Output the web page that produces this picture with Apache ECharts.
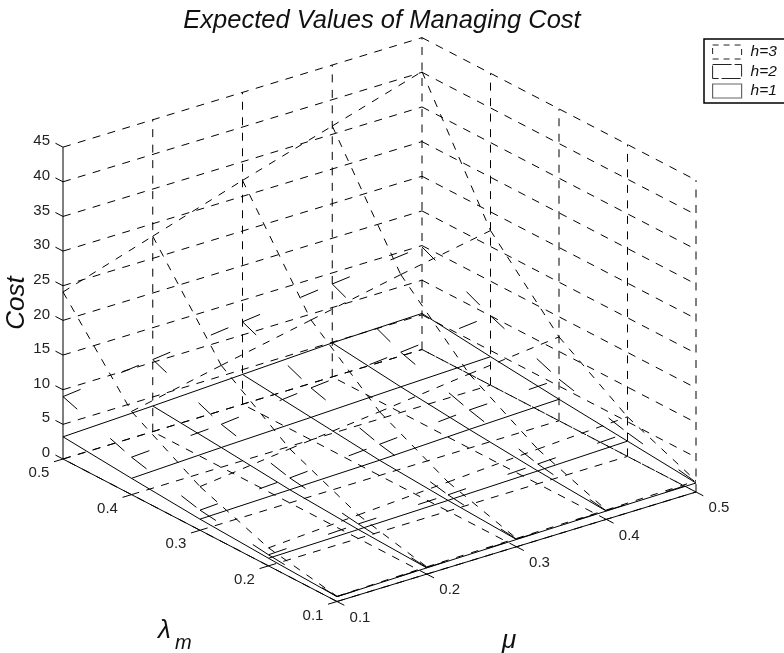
<!DOCTYPE html>
<html>
<head>
<meta charset="utf-8">
<script src="https://cdn.jsdelivr.net/npm/echarts@6/dist/echarts.min.js"></script>
<style>
  html, body { margin: 0; padding: 0; background: #fff; }
  #chart { width: 784px; height: 653px; }
</style>
</head>
<body>
<div id="chart"></div>
<script>
const lambdaValues = [0.5, 0.4, 0.3, 0.2, 0.1];
const muValues = [0.1, 0.2, 0.3, 0.4, 0.5];
const costTicks = [0, 5, 10, 15, 20, 25, 30, 35, 40, 45];

// one row per lambda (0.5 first), one column per mu
const costH3 = [
  [24.1, 28.2, 32.3, 36.2, 40.1],
  [12.0, 14.7, 17.3, 19.9, 22.3],
  [6.3, 7.8, 9.2, 10.7, 12.1],
  [2.6, 3.4, 4.2, 5.0, 5.7],
  [0.75, 1.05, 1.2, 1.35, 1.6],
];
const costH2 = [
  [9.0, 10.4, 11.9, 13.4, 14.8],
  [5.4, 6.2, 7.5, 8.7, 10.0],
  [2.9, 3.6, 4.5, 5.5, 6.0],
  [1.6, 2.1, 2.35, 2.85, 3.4],
  [0.7, 0.95, 1.1, 1.25, 1.4],
];
const costH1 = [
  [3.2, 3.7, 4.3, 4.9, 5.2],
  [2.35, 2.85, 3.25, 3.7, 4.1],
  [1.6, 1.9, 2.2, 2.7, 3.1],
  [1.1, 1.3, 1.55, 1.85, 2.2],
  [0.7, 0.9, 1.05, 1.2, 1.3],
];

const FONT = '"Liberation Sans", Arial, sans-serif';
const LAMBDA_MIN = 0.1, LAMBDA_MAX = 0.5, MU_MIN = 0.1, MU_MAX = 0.5, COST_MAX = 45;

// fixed orthographic view of the box, result is in the hidden cartesian's units
function project(lambda, mu, cost) {
  const a = (lambda - 0.1) / 0.4;
  const b = (mu - 0.1) / 0.4;
  return [337 - 274 * a + 359 * b, 601.5 - 142.5 * a - 109.5 * b - 6.93 * cost];
}

function meshSegments(rows) {
  const segs = [];
  rows.forEach((row, i) => row.forEach((cost, j) => {
    const l = lambdaValues[i], m = muValues[j];
    if (j < row.length - 1) segs.push([l, m, cost, l, muValues[j + 1], row[j + 1]]);
    if (i < rows.length - 1) segs.push([l, m, cost, lambdaValues[i + 1], m, rows[i + 1][j]]);
  }));
  return segs;
}

const gridSegments = [];
costTicks.forEach(c => {
  gridSegments.push([LAMBDA_MAX, MU_MIN, c, LAMBDA_MAX, MU_MAX, c]);
  gridSegments.push([LAMBDA_MAX, MU_MAX, c, LAMBDA_MIN, MU_MAX, c]);
});
muValues.forEach(m => {
  if (m > MU_MIN) gridSegments.push([LAMBDA_MAX, m, 0, LAMBDA_MAX, m, COST_MAX]);
  gridSegments.push([LAMBDA_MIN, m, 0, LAMBDA_MAX, m, 0]);
});
lambdaValues.forEach(l => {
  if (l < LAMBDA_MAX) gridSegments.push([l, MU_MAX, 0, l, MU_MAX, COST_MAX]);
  gridSegments.push([l, MU_MIN, 0, l, MU_MAX, 0]);
});

const axisSegments = [
  [LAMBDA_MAX, MU_MIN, 0, LAMBDA_MAX, MU_MIN, COST_MAX],
  [LAMBDA_MAX, MU_MIN, 0, LAMBDA_MIN, MU_MIN, 0],
  [LAMBDA_MIN, MU_MIN, 0, LAMBDA_MIN, MU_MAX, 0],
];
costTicks.forEach(c => axisSegments.push([LAMBDA_MAX, MU_MIN, c, LAMBDA_MAX + 0.011, MU_MIN, c]));
lambdaValues.forEach(l => axisSegments.push([l, MU_MIN, 0, l, MU_MIN - 0.01, 0]));
muValues.forEach(m => axisSegments.push([LAMBDA_MIN, m, 0, LAMBDA_MIN - 0.0107, m, 0]));

const tickLabels = [];
costTicks.forEach(c => tickLabels.push([LAMBDA_MAX, MU_MIN, c, String(c), -13, -6, 'right']));
lambdaValues.forEach(l => tickLabels.push([l, MU_MIN, 0, l.toFixed(1), -24, 14, 'center']));
muValues.forEach(m => tickLabels.push([LAMBDA_MIN, m, 0, m.toFixed(1), 23, 16, 'center']));

function renderSegment(dash, width) {
  return function (params, api) {
    const from = api.coord(project(api.value(0), api.value(1), api.value(2)));
    const to = api.coord(project(api.value(3), api.value(4), api.value(5)));
    return {
      type: 'line',
      shape: {x1: from[0], y1: from[1], x2: to[0], y2: to[1]},
      style: {stroke: '#000', lineWidth: width, lineDash: dash, fill: null},
      silent: true,
    };
  };
}

function renderLabel(params, api) {
  const p = api.coord(project(api.value(0), api.value(1), api.value(2)));
  return {
    type: 'text',
    x: p[0] + api.value(4),
    y: p[1] + api.value(5),
    style: {
      text: tickLabels[params.dataIndex][3],
      font: '15px ' + FONT,
      fill: '#222',
      align: tickLabels[params.dataIndex][6],
      verticalAlign: 'middle',
    },
    silent: true,
  };
}

function segmentSeries(name, data, dash, width) {
  return {
    name, type: 'custom', coordinateSystem: 'cartesian2d',
    data, clip: false, animation: false,
    renderItem: renderSegment(dash, width),
    encode: {x: 0, y: 1},
  };
}

const chart = echarts.init(document.getElementById('chart'), null, {renderer: 'canvas'});
chart.setOption({
  animation: false,
  backgroundColor: '#fff',
  title: {
    text: 'Expected Values of Managing Cost',
    left: 377, top: 3, textAlign: 'center',
    textStyle: {fontFamily: FONT, fontStyle: 'italic', fontWeight: 'normal', fontSize: 25.5, color: '#111'},
  },
  grid: {left: 0, right: 0, top: 0, bottom: 0},
  xAxis: {type: 'value', min: 0, max: 784, show: false},
  yAxis: {type: 'value', min: 0, max: 653, inverse: true, show: false},
  legend: {
    orient: 'vertical', left: 704, top: 39,
    padding: [5, 30, 4, 8],
    itemWidth: 29, itemHeight: 14, itemGap: 3.5,
    borderColor: '#000', borderWidth: 1.5, borderRadius: 0,
    backgroundColor: '#fff',
    selectedMode: false,
    textStyle: {fontFamily: FONT, fontStyle: 'italic', fontSize: 15.5, lineHeight: 14, color: '#111', padding: [0, 0, 0, 4]},
    data: [
      {name: 'h=3', icon: 'rect', itemStyle: {color: '#fff', borderColor: '#222', borderWidth: 1, borderType: [6, 5]}},
      {name: 'h=2', icon: 'rect', itemStyle: {color: '#fff', borderColor: '#222', borderWidth: 1, borderType: [19, 3]}},
      {name: 'h=1', icon: 'rect', itemStyle: {color: '#fff', borderColor: '#666', borderWidth: 1.2}},
    ],
  },
  graphic: [
    {type: 'text', x: 17, y: 303, rotation: Math.PI / 2, style: {text: 'Cost', font: 'italic 26px ' + FONT, fill: '#111', align: 'center', verticalAlign: 'middle'}},
    {type: 'text', x: 158, y: 631, style: {text: 'λ', font: 'italic 26px ' + FONT, fill: '#111', verticalAlign: 'middle'}},
    {type: 'text', x: 175, y: 643, style: {text: 'm', font: 'italic 20px ' + FONT, fill: '#111', verticalAlign: 'middle'}},
    {type: 'text', x: 502, y: 641, style: {text: 'μ', font: 'italic 26px ' + FONT, fill: '#111', verticalAlign: 'middle'}},
  ],
  series: [
    segmentSeries('grid', gridSegments, [8, 7.5], 1),
    segmentSeries('axes', axisSegments, null, 1),
    segmentSeries('h=3', meshSegments(costH3), [7.5, 8], 1),
    segmentSeries('h=2', meshSegments(costH2), [19, 44], 1),
    segmentSeries('h=1', meshSegments(costH1), null, 1),
    {
      name: 'tickLabels', type: 'custom', coordinateSystem: 'cartesian2d',
      data: tickLabels.map(t => [t[0], t[1], t[2], 0, t[4], t[5]]),
      clip: false, animation: false, renderItem: renderLabel, encode: {x: 0, y: 1},
    },
  ],
});
window.addEventListener('resize', () => chart.resize());
</script>
</body>
</html>
